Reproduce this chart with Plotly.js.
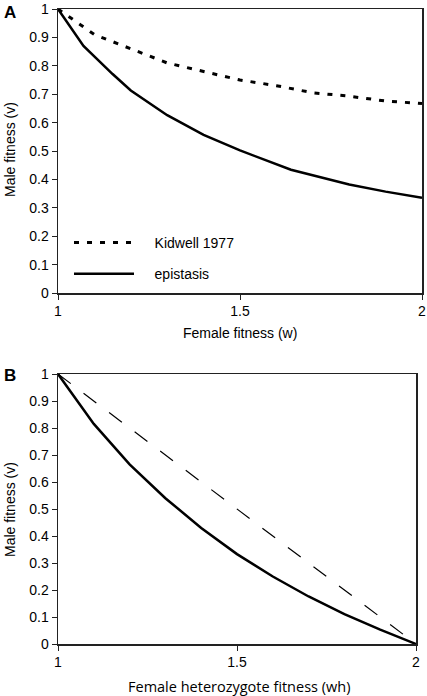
<!DOCTYPE html>
<html>
<head>
<meta charset="utf-8">
<script src="https://cdn.plot.ly/plotly-3.0.1.min.js"></script>
<style>html,body{margin:0;padding:0;background:#fff;}#chart{width:427px;height:696px;}</style>
</head>
<body>
<div id="chart"></div>
<script>
// Panel A
const kidwellW = [1, 1.1, 1.2, 1.3, 1.4, 1.5, 1.6, 1.7, 1.8, 1.9, 2];
const kidwellV = [1, 0.91, 0.86, 0.81, 0.78, 0.75, 0.73, 0.705, 0.693, 0.676, 0.667];
const epiW = [1, 1.07, 1.15, 1.2, 1.3, 1.4, 1.5, 1.64, 1.8, 1.9, 2];
const epiV = [1, 0.87, 0.771, 0.713, 0.626, 0.557, 0.502, 0.434, 0.382, 0.357, 0.335];
// Panel B
const linearWh = [1, 2];
const linearV = [1, 0];
const hetWh = [1, 1.1, 1.2, 1.3, 1.4, 1.5, 1.6, 1.7, 1.8, 1.9, 2];
const hetV = [1, 0.815, 0.665, 0.54, 0.43, 0.333, 0.25, 0.176, 0.111, 0.053, 0];

const W = 427, H = 696;
const px = (a, b) => [a / W, b / W];
const py = (top, bottom) => [1 - bottom / H, 1 - top / H];
const NB = '\u00a0\u00a0\u00a0\u00a0';

const traces = [
  {x: kidwellW, y: kidwellV, xaxis: 'x', yaxis: 'y', mode: 'lines', name: NB + 'Kidwell 1977',
   legendgroup: 'k', line: {color: '#000', width: 3, dash: '5px,8px'}},
  {x: epiW, y: epiV, xaxis: 'x', yaxis: 'y', mode: 'lines', name: NB + 'epistasis',
   legendgroup: 'e', line: {color: '#000', width: 2.5}},
  {x: linearWh, y: linearV, xaxis: 'x2', yaxis: 'y2', mode: 'lines', showlegend: false,
   line: {color: '#000', width: 1.2, dash: '16px,16px'}},
  {x: hetWh, y: hetV, xaxis: 'x2', yaxis: 'y2', mode: 'lines', showlegend: false,
   line: {color: '#000', width: 2.5}}
];

const FAM = 'Liberation Sans, Arial, sans-serif';
const tickFont = {family: FAM, size: 14, color: '#000'};
const axBase = {
  showline: true, mirror: true, linecolor: '#222', linewidth: 1.5,
  showgrid: false, zeroline: false, ticks: 'outside', ticklen: 5, tickwidth: 1, tickcolor: '#222',
  tickfont: tickFont, fixedrange: true, ticklabeloverflow: 'allow'
};

const ann = (text, x, y, size, fam, angle, bold) => ({
  text: bold ? '<b>' + text + '</b>' : text, xref: 'paper', yref: 'paper',
  x: x / W, y: 1 - y / H, xanchor: 'center', yanchor: 'middle', showarrow: false,
  textangle: angle || 0, font: {size: size, family: fam, color: '#000'}
});

const layout = {
  width: W, height: H,
  margin: {l: 0, r: 0, t: 0, b: 0},
  paper_bgcolor: '#fff', plot_bgcolor: '#fff',
  font: {family: FAM, color: '#000'},
  showlegend: true,
  legend: {x: 69 / W, y: 1 - 227 / H, xanchor: 'left', yanchor: 'top', bgcolor: 'rgba(0,0,0,0)',
           font: {family: FAM, size: 14, color: '#000'},
           tracegroupgap: 10, itemwidth: 60},
  xaxis: Object.assign({}, axBase, {domain: px(58, 422), range: [1, 2], dtick: 0.5, tick0: 1, anchor: 'y'}),
  yaxis: Object.assign({}, axBase, {domain: py(9, 293), range: [0, 1], dtick: 0.1, tick0: 0, anchor: 'x'}),
  xaxis2: Object.assign({}, axBase, {domain: px(58, 416), range: [1, 2], dtick: 0.5, tick0: 1, anchor: 'y2'}),
  yaxis2: Object.assign({}, axBase, {domain: py(374, 644), range: [0, 1], dtick: 0.1, tick0: 0, anchor: 'x2'}),
  annotations: [
    ann('A', 10, 13, 17, FAM, 0, true),
    ann('B', 10, 375, 17, FAM, 0, true),
    ann('Female fitness (w)', 240, 333, 14, FAM),
    ann('Male fitness (v)', 10, 150, 14, FAM, -90),
    ann('Female heterozygote fitness (wh)', 239, 686, 14.5, 'Open Sans, sans-serif'),
    ann('Male fitness (v)', 10, 510, 14, FAM, -90)
  ]
};

Plotly.newPlot('chart', traces, layout, {staticPlot: true, displayModeBar: false});
</script>
</body>
</html>
